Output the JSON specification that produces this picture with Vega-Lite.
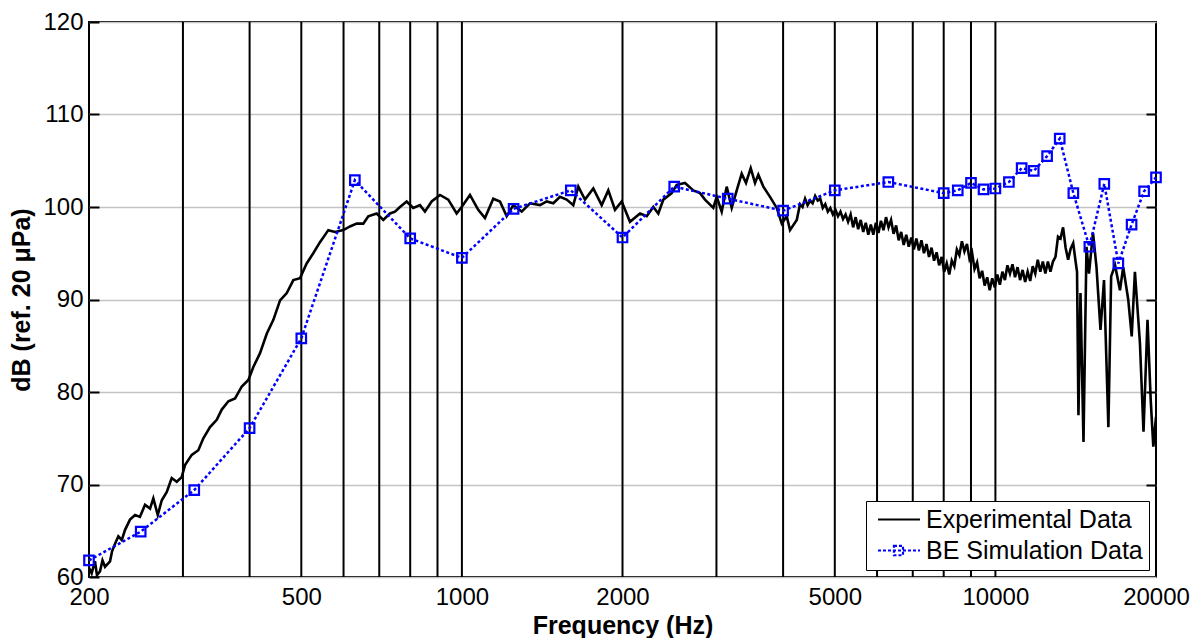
{
 "$schema": "https://vega.github.io/schema/vega-lite/v6.json",
 "width": 1067,
 "height": 555,
 "autosize": {"type": "none"},
 "padding": {"left": 89, "top": 22, "right": 47, "bottom": 61},
 "background": "white",
 "config": {
  "view": {"stroke": "black", "strokeWidth": 2},
  "font": "Liberation Sans",
  "axis": {"labelFont": "Liberation Sans", "titleFont": "Liberation Sans", "labelColor": "black", "titleColor": "black", "labelFontSize": 24, "titleFontSize": 25, "titleFontWeight": "bold"}
 },
 "datasets": {
  "vlines": [{"f":300},{"f":400},{"f":500},{"f":600},{"f":700},{"f":800},{"f":900},{"f":1000},{"f":2000},{"f":3000},{"f":4000},{"f":5000},{"f":6000},{"f":7000},{"f":8000},{"f":9000},{"f":10000}],
  "be": [
   {"f":200,"db":61.8},{"f":250,"db":64.9},{"f":315,"db":69.4},{"f":400,"db":76.1},{"f":500,"db":85.8},{"f":630,"db":102.9},{"f":800,"db":96.6},{"f":1000,"db":94.5},{"f":1250,"db":99.8},{"f":1600,"db":101.8},{"f":2000,"db":96.7},{"f":2500,"db":102.2},{"f":3150,"db":100.9},{"f":4000,"db":99.6},{"f":5000,"db":101.8},{"f":6300,"db":102.7},{"f":8000,"db":101.5},{"f":8500,"db":101.8},{"f":9000,"db":102.6},{"f":9500,"db":101.9},{"f":10000,"db":102.0},{"f":10600,"db":102.7},{"f":11200,"db":104.2},{"f":11800,"db":103.9},{"f":12500,"db":105.5},{"f":13200,"db":107.4},{"f":14000,"db":101.5},{"f":15000,"db":95.7},{"f":16000,"db":102.5},{"f":17000,"db":93.9},{"f":18000,"db":98.1},{"f":19000,"db":101.7},{"f":20000,"db":103.2}
  ],
  "exp": [
   {"f":200,"db":61.0},{"f":202.3,"db":60.4},{"f":205.2,"db":61.7},{"f":207,"db":60.2},{"f":209.7,"db":60.6},{"f":212,"db":61.8},{"f":214.3,"db":61.1},{"f":219,"db":61.7},{"f":221,"db":62.8},{"f":223.8,"db":63.6},{"f":227,"db":64.4},{"f":230.4,"db":64.0},{"f":233.7,"db":65.1},{"f":238.7,"db":66.2},{"f":244,"db":66.7},{"f":249.2,"db":66.5},{"f":254.7,"db":67.8},{"f":260.3,"db":67.4},{"f":264,"db":68.5},{"f":269.1,"db":66.7},{"f":273.8,"db":68.3},{"f":279.8,"db":69.2},{"f":285.8,"db":70.7},{"f":292.1,"db":70.3},{"f":298.4,"db":70.8},{"f":302.7,"db":72.1},{"f":311.6,"db":73.2},{"f":320.6,"db":73.7},{"f":327.6,"db":75.0},{"f":337.2,"db":76.2},{"f":347.1,"db":77.0},{"f":354.7,"db":78.1},{"f":365,"db":79.0},{"f":375.7,"db":79.3},{"f":386.7,"db":80.6},{"f":397.9,"db":81.3},{"f":406.5,"db":82.7},{"f":418.4,"db":84.2},{"f":430.7,"db":86.3},{"f":443.2,"db":87.8},{"f":456.2,"db":89.9},{"f":469.6,"db":90.7},{"f":483.1,"db":92.1},{"f":497.2,"db":92.3},{"f":511.7,"db":93.9},{"f":526.5,"db":95.0},{"f":542,"db":96.2},{"f":561.8,"db":97.5},{"f":578.3,"db":97.3},{"f":599.4,"db":97.5},{"f":616.9,"db":97.9},{"f":635,"db":98.2},{"f":653.4,"db":98.2},{"f":667.6,"db":99.0},{"f":692.3,"db":99.3},{"f":712.2,"db":98.6},{"f":733.1,"db":99.3},{"f":749.1,"db":99.5},{"f":765.4,"db":100.0},{"f":787.9,"db":100.6},{"f":810.7,"db":99.9},{"f":834.4,"db":100.2},{"f":852.6,"db":99.5},{"f":877.6,"db":100.6},{"f":909.7,"db":101.3},{"f":942.9,"db":100.8},{"f":977.6,"db":99.3},{"f":998.9,"db":100.0},{"f":1035.4,"db":101.3},{"f":1073.1,"db":99.7},{"f":1104.6,"db":98.8},{"f":1145,"db":100.9},{"f":1178.5,"db":100.6},{"f":1213.3,"db":99.0},{"f":1248.4,"db":100.2},{"f":1294.6,"db":99.5},{"f":1341.7,"db":100.4},{"f":1401,"db":100.2},{"f":1441.9,"db":100.6},{"f":1483.6,"db":100.4},{"f":1527,"db":101.1},{"f":1571.8,"db":100.8},{"f":1617.3,"db":100.2},{"f":1652.7,"db":102.2},{"f":1701,"db":100.8},{"f":1763.2,"db":102.0},{"f":1828.2,"db":100.2},{"f":1881.1,"db":101.8},{"f":1936.1,"db":99.7},{"f":1993.1,"db":100.6},{"f":2065.6,"db":98.4},{"f":2156.9,"db":99.3},{"f":2220.4,"db":99.0},{"f":2284.3,"db":100.0},{"f":2334.3,"db":99.3},{"f":2385.4,"db":100.8},{"f":2473.2,"db":101.5},{"f":2527.3,"db":102.4},{"f":2619.2,"db":102.6},{"f":2714.9,"db":101.8},{"f":2794.8,"db":101.5},{"f":2855.3,"db":100.8},{"f":2959.7,"db":99.9},{"f":3003.6,"db":101.1},{"f":3068.7,"db":99.5},{"f":3135.8,"db":102.2},{"f":3204.4,"db":99.9},{"f":3274.5,"db":101.8},{"f":3345.4,"db":103.6},{"f":3408.3,"db":102.6},{"f":3478.1,"db":104.2},{"f":3543.5,"db":102.6},{"f":3594.4,"db":103.5},{"f":3673.1,"db":102.2},{"f":3780.4,"db":101.1},{"f":3891.7,"db":99.9},{"f":3976.8,"db":98.2},{"f":4062.9,"db":99.0},{"f":4121.3,"db":97.5},{"f":4242.6,"db":98.6},
   {"f":4303,"db":100.3},{"f":4350,"db":100.0},{"f":4398,"db":100.9},{"f":4446,"db":100.2},{"f":4495,"db":100.7},{"f":4544,"db":100.4},{"f":4594,"db":101.2},{"f":4645,"db":100.7},{"f":4696,"db":100.9},{"f":4747,"db":99.9},{"f":4799,"db":100.3},{"f":4852,"db":99.5},{"f":4905,"db":99.9},{"f":4959,"db":99.2},{"f":5014,"db":99.7},{"f":5069,"db":99.0},{"f":5124,"db":99.5},{"f":5181,"db":98.7},{"f":5238,"db":99.2},{"f":5295,"db":98.4},
   {"f":5353,"db":99.2},{"f":5412,"db":97.8},{"f":5471,"db":98.9},{"f":5531,"db":97.6},{"f":5592,"db":98.6},{"f":5653,"db":97.3},{"f":5715,"db":98.3},{"f":5778,"db":97.0},{"f":5841,"db":98.1},{"f":5905,"db":97.0},{"f":5970,"db":98.3},{"f":6036,"db":97.2},{"f":6102,"db":98.5},{"f":6169,"db":97.5},{"f":6237,"db":98.9},{"f":6305,"db":97.8},{"f":6374,"db":98.6},{"f":6444,"db":97.1},{"f":6515,"db":98.0},{"f":6587,"db":96.4},
   {"f":6659,"db":97.3},{"f":6732,"db":95.9},{"f":6806,"db":97.0},{"f":6881,"db":95.7},{"f":6956,"db":96.7},{"f":7033,"db":95.4},{"f":7110,"db":96.6},{"f":7188,"db":95.3},{"f":7267,"db":96.4},{"f":7347,"db":95.0},{"f":7427,"db":96.0},{"f":7509,"db":94.6},{"f":7591,"db":95.6},{"f":7675,"db":94.2},{"f":7759,"db":95.1},{"f":7844,"db":93.7},{"f":7930,"db":94.6},{"f":8017,"db":93.0},{"f":8105,"db":93.9},{"f":8194,"db":92.7},
   {"f":8284,"db":94.2},{"f":8375,"db":93.6},{"f":8467,"db":95.4},{"f":8560,"db":94.8},{"f":8654,"db":96.3},{"f":8749,"db":95.2},{"f":8845,"db":96.0},{"f":8942,"db":94.4},{"f":9040,"db":95.1},{"f":9139,"db":93.3},{"f":9240,"db":94.0},{"f":9341,"db":92.3},{"f":9444,"db":93.1},{"f":9547,"db":91.5},{"f":9652,"db":92.4},{"f":9758,"db":91.0},{"f":9865,"db":92.3},{"f":9974,"db":91.3},{"f":10083,"db":92.7},{"f":10194,"db":91.6},
   {"f":10306,"db":93.0},{"f":10419,"db":92.1},{"f":10533,"db":93.7},{"f":10649,"db":92.8},{"f":10766,"db":93.8},{"f":10884,"db":92.4},{"f":11003,"db":93.5},{"f":11124,"db":92.1},{"f":11246,"db":93.2},{"f":11370,"db":91.9},{"f":11494,"db":93.0},{"f":11620,"db":92.0},{"f":11748,"db":93.6},{"f":11877,"db":92.8},{"f":12007,"db":94.3},{"f":12139,"db":93.0},{"f":12272,"db":94.1},{"f":12407,"db":92.8},{"f":12543,"db":94.1},{"f":12681,"db":93.0},
   {"f":12820,"db":94.1},{"f":12961,"db":94.6},{"f":13103,"db":96.8},{"f":13247,"db":96.6},{"f":13392,"db":97.8},{"f":13539,"db":95.6},{"f":13688,"db":94.3},{"f":13838,"db":95.5},{"f":13990,"db":96.1},{"f":14144,"db":94.0},
   {"f":14224,"db":93.0},{"f":14311,"db":77.5},{"f":14437,"db":90.7},{"f":14626,"db":74.6},{"f":14816,"db":95.7},{"f":14976,"db":92.8},{"f":15238,"db":97.2},{"f":15470,"db":93.5},{"f":15740,"db":86.7},{"f":15980,"db":92.1},{"f":16285,"db":76.2},{"f":16480,"db":92.5},{"f":16760,"db":93.7},{"f":17120,"db":91.0},{"f":17360,"db":93.5},{"f":17740,"db":90.0},{"f":18010,"db":86.0},{"f":18260,"db":93.0},{"f":18660,"db":85.3},{"f":18950,"db":75.7},{"f":19280,"db":87.8},{"f":19550,"db":79.1},{"f":19770,"db":74.1},{"f":20000,"db":77.3}
  ]
 },
 "resolve": {"axis": {"y": "independent"}},
 "layer": [
  {
   "data": {"name": "vlines"},
   "mark": {"type": "rule", "color": "black", "strokeWidth": 2},
   "encoding": {
    "x": {"field": "f", "type": "quantitative", "title": "Frequency (Hz)",
     "scale": {"type": "log", "domain": [200, 20000], "nice": false},
     "axis": {"orient": "bottom", "values": [200, 500, 1000, 2000, 5000, 10000, 20000], "format": "d", "ticks": false, "domain": false, "grid": false, "labelPadding": 8, "labelFlush": false, "titlePadding": 4}}
   }
  },
  {
   "data": {"name": "exp"},
   "mark": {"type": "line", "strokeWidth": 2.6, "clip": true},
   "encoding": {
    "x": {"field": "f", "type": "quantitative", "title": "Frequency (Hz)"},
    "y": {"field": "db", "type": "quantitative", "title": "dB (ref. 20 μPa)",
     "scale": {"domain": [60, 120], "nice": false, "zero": false},
     "axis": {"orient": "left", "values": [60, 70, 80, 90, 100, 110, 120], "grid": true, "gridColor": "#c4c4c4", "gridWidth": 1.5, "domain": false, "tickSize": -10, "tickColor": "black", "tickWidth": 2, "labelPadding": 16, "titlePadding": 8}},
    "color": {"datum": "Experimental Data", "type": "nominal",
     "scale": {"domain": ["Experimental Data", "BE Simulation Data"], "range": ["#000000", "#0000ff"]},
     "legend": {"orient": "bottom-right", "offset": 7, "title": null, "labelFontSize": 25, "labelFont": "Liberation Sans", "labelColor": "black", "strokeColor": "black", "fillColor": "white", "padding": 6, "rowPadding": 5, "symbolSize": 441, "symbolStrokeWidth": 2, "labelOffset": 29, "labelLimit": 500,
      "encode": {"symbols": {"update": {
       "shape": {"signal": "datum.value === 'BE Simulation Data' ? 'M-0.62,0H3.38M0.9,-0.45H1.76V0.45H0.9Z' : 'M-0.62,0H3.38'"},
       "strokeDash": {"signal": "datum.value === 'BE Simulation Data' ? [3, 2] : [1, 0]"},
       "strokeWidth": {"value": 2.2}}}}}}
   }
  },
  {
   "data": {"name": "be"},
   "mark": {"type": "line", "strokeWidth": 2.5, "strokeDash": [3, 2.5]},
   "encoding": {
    "x": {"field": "f", "type": "quantitative", "title": "Frequency (Hz)"},
    "y": {"field": "db", "type": "quantitative", "axis": null},
    "color": {"datum": "BE Simulation Data", "type": "nominal"}
   }
  },
  {
   "data": {"name": "be"},
   "mark": {"type": "point", "shape": "square", "filled": false, "size": 90, "strokeWidth": 2.2, "opacity": 1},
   "encoding": {
    "x": {"field": "f", "type": "quantitative", "title": "Frequency (Hz)"},
    "y": {"field": "db", "type": "quantitative",
     "axis": {"orient": "right", "values": [70, 80, 90, 100, 110], "labels": false, "grid": false, "domain": false, "tickSize": -10, "tickColor": "black", "tickWidth": 2, "title": null}},
    "color": {"datum": "BE Simulation Data", "type": "nominal"}
   }
  }
 ]
}
